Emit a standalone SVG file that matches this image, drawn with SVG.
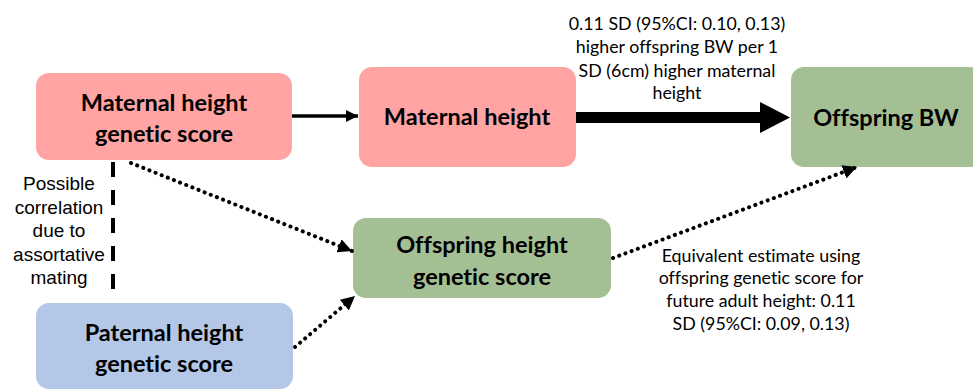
<svg xmlns="http://www.w3.org/2000/svg" width="973" height="389" viewBox="0 0 973 389">
<style>
text{font-variant-ligatures:none;font-feature-settings:"liga" 0,"clig" 0}
.box{stroke:none}
.pink{fill:#ffa3a3}
.green{fill:#a5bf95}
.blue{fill:#b4c7e7}
.nt{font-family:Lato,"Liberation Sans",sans-serif;font-weight:bold;font-size:23.5px;fill:#000;text-anchor:middle}
.lb{font-family:Lato,"Liberation Sans",sans-serif;font-size:17.8px;fill:#000;text-anchor:middle}
.ar{font-family:"Liberation Sans",Arial,sans-serif;font-size:19px;fill:#000;text-anchor:middle}
.dot{stroke:#000;stroke-width:4;stroke-linecap:round;stroke-dasharray:0.1 6.5;fill:none}
</style>
<defs>
<marker id="ah" viewBox="0 0 10 10" refX="10" refY="5" markerWidth="12" markerHeight="12" markerUnits="userSpaceOnUse" orient="auto">
<path d="M0,0 L10,5 L0,10 Z" fill="#000"/>
</marker>
<marker id="ahd" viewBox="0 0 10 10" refX="10" refY="5" markerWidth="14" markerHeight="14" markerUnits="userSpaceOnUse" orient="auto">
<path d="M0,0 L10,5 L0,10 Z" fill="#000"/>
</marker>
</defs>
<g id="node-mgs">
<rect class="box pink" x="36" y="73" width="256" height="87" rx="13"/>
<text class="nt" x="164" y="111">Maternal height</text>
<text class="nt" x="164" y="142">genetic score</text>
</g>
<g id="node-mh">
<rect class="box pink" x="359" y="67" width="217" height="100" rx="13"/>
<text class="nt" x="467" y="125">Maternal height</text>
</g>
<g id="node-obw">
<rect class="box green" x="791" y="67" width="192" height="100" rx="13"/>
<text class="nt" x="886" y="126">Offspring BW</text>
</g>
<g id="node-ogs">
<rect class="box green" x="353" y="218" width="258" height="80" rx="13"/>
<text class="nt" x="482" y="253">Offspring height</text>
<text class="nt" x="482" y="285">genetic score</text>
</g>
<g id="node-pgs">
<rect class="box blue" x="36" y="303" width="257" height="86" rx="13"/>
<text class="nt" x="164" y="341">Paternal height</text>
<text class="nt" x="164" y="372">genetic score</text>
</g>
<g id="connectors">
<line x1="292" y1="116" x2="358" y2="116" stroke="#000" stroke-width="3.5" marker-end="url(#ah)"/>
<line x1="576" y1="117.5" x2="762" y2="117.5" stroke="#000" stroke-width="11"/>
<path d="M760,102 L790,117.5 L760,133 Z" fill="#000"/>
<line x1="113" y1="162" x2="113" y2="294" stroke="#000" stroke-width="4" stroke-dasharray="15 13"/>
<line class="dot" x1="131" y1="163" x2="352" y2="251" marker-end="url(#ahd)"/>
<line class="dot" x1="295" y1="347" x2="355" y2="296" marker-end="url(#ahd)"/>
<line class="dot" x1="613" y1="258" x2="857" y2="167" marker-end="url(#ahd)"/>
</g>
<g id="labels">
<text class="lb" x="677" y="30">0.11 SD (95%CI: 0.10, 0.13)</text>
<text class="lb" x="677" y="53">higher offspring BW per 1</text>
<text class="lb" x="677" y="77">SD (6cm) higher maternal</text>
<text class="lb" x="677" y="99">height</text>
<text class="lb" x="761" y="262">Equivalent estimate using</text>
<text class="lb" x="761" y="284">offspring genetic score for</text>
<text class="lb" x="761" y="307">future adult height: 0.11</text>
<text class="lb" x="761" y="330">SD (95%CI: 0.09, 0.13)</text>
<text class="ar" x="59" y="190">Possible</text>
<text class="ar" x="59" y="214">correlation</text>
<text class="ar" x="59" y="237">due to</text>
<text class="ar" x="59" y="261">assortative</text>
<text class="ar" x="59" y="284">mating</text>
</g>
</svg>
